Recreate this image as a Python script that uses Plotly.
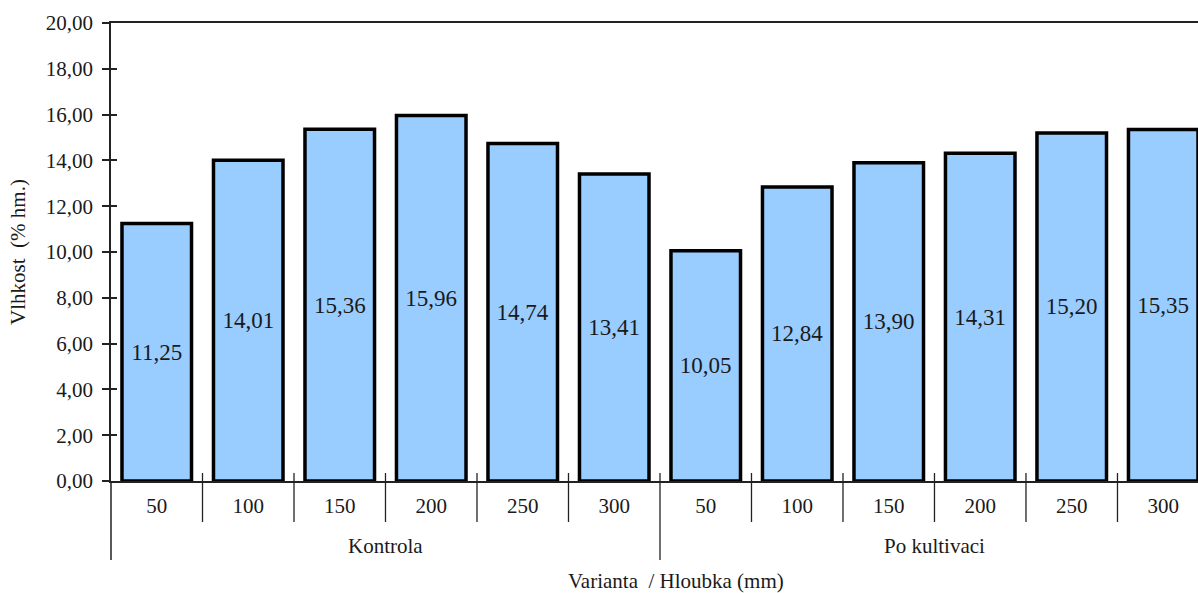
import plotly.graph_objects as go

groups = ["Kontrola", "Po kultivaci"]
depths = ["50", "100", "150", "200", "250", "300"]
values = [11.25, 14.01, 15.36, 15.96, 14.74, 13.41,
          10.05, 12.84, 13.90, 14.31, 15.20, 15.35]
y_ticks = [0, 2, 4, 6, 8, 10, 12, 14, 16, 18, 20]

n_per = len(depths)
xpos = list(range(len(values)))
ticktext = depths * len(groups)
labels = [f"{v:.2f}".replace(".", ",") for v in values]

FONT = "Liberation Serif"
INK = "#1a1a1a"

fig = go.Figure()
fig.add_trace(go.Bar(
    x=xpos, y=values,
    text=labels, textposition="inside", insidetextanchor="middle",
    textangle=0, textfont=dict(family=FONT, size=23, color=INK),
    marker=dict(color="#99CCFF", line=dict(color="#000", width=3.5)),
    hoverinfo="skip",
))
# empty trace so the overlaying axis (inner halves of y ticks) is drawn
fig.add_trace(go.Scatter(x=[], y=[], yaxis="y2", hoverinfo="skip"))

# plot area: x 111..1198, y 23..481 (px)
plot_h = 593 - 23 - 112
def py(px):  # pixel y below axis -> paper y
    return (481 - px) / plot_h

shapes = []
for k in range(len(values) - 1):
    b = k + 0.5
    long = (k + 1) % n_per == 0
    shapes.append(dict(type="line", xref="x", yref="paper",
                       x0=b, x1=b, y0=py(473), y1=py(560 if long else 522),
                       line=dict(color="#222", width=1.3)))
shapes.append(dict(type="line", xref="paper", yref="paper",
                   x0=0, x1=0, y0=0, y1=py(560),
                   line=dict(color="#222", width=1.5)))

annotations = []
for gi, g in enumerate(groups):
    annotations.append(dict(
        text=g, x=gi * n_per + (n_per - 1) / 2, xref="x",
        y=py(546), yref="paper", yanchor="middle", xanchor="center",
        showarrow=False, font=dict(family=FONT, size=21, color=INK)))
annotations.append(dict(
    text="Varianta  / Hloubka (mm)", x=(676 - 111) / 1087, xref="paper",
    y=py(581), yref="paper", yanchor="middle", xanchor="center",
    showarrow=False, font=dict(family=FONT, size=21, color=INK)))

fig.update_layout(
    width=1198, height=593,
    margin=dict(l=111, r=0, t=23, b=112),
    plot_bgcolor="white", paper_bgcolor="white",
    separators=",.",
    bargap=0.24,
    showlegend=False,
    font=dict(family=FONT, size=21, color=INK),
    shapes=shapes,
    annotations=annotations,
)
fig.update_xaxes(
    range=[-0.5, 11.38],
    tickmode="array", tickvals=xpos, ticktext=ticktext,
    ticks="", ticklabelstandoff=5,
    showline=True, linecolor="#222", linewidth=1.5, mirror=True,
    tickfont=dict(family=FONT, size=21, color=INK),
    showgrid=False, zeroline=False,
)
fig.update_yaxes(
    range=[0, 20], tickmode="array", tickvals=y_ticks, tickformat=".2f",
    showline=True, linecolor="#222", linewidth=1.5,
    ticks="outside", ticklen=7, tickcolor="#222", tickwidth=1.5,
    ticklabelstandoff=5,
    tickfont=dict(family=FONT, size=21, color=INK),
    title=dict(text="Vlhkost  (% hm.)", font=dict(family=FONT, size=21, color=INK), standoff=14),
    showgrid=False, zeroline=False,
)
fig.update_layout(yaxis2=dict(
    overlaying="y", anchor="x", side="left", range=[0, 20],
    tickmode="array", tickvals=y_ticks, ticks="inside", ticklen=6,
    tickcolor="#222", tickwidth=1.5, showticklabels=False,
    showline=False, showgrid=False, zeroline=False,
))
fig.write_html("out.html")
